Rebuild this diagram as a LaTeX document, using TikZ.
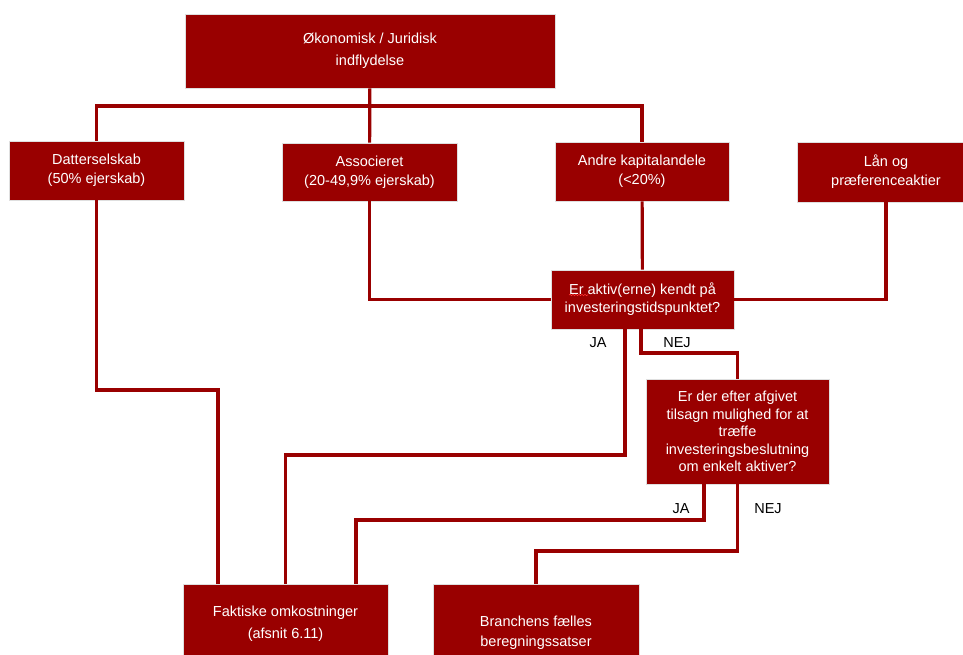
\documentclass[tikz,border=0pt]{standalone}
\usepackage{fontspec}
\setmainfont{Liberation Sans}
\usetikzlibrary{decorations.pathmorphing}

\definecolor{boxred}{RGB}{153,0,0}

\tikzset{
    box/.style={fill=boxred, draw=gray!25, line width=0.8pt, text=white,
        align=center, inner sep=0pt, font=\fontsize{14.5}{19}\selectfont},
    link/.style={draw=boxred, line width=3.2pt, line join=miter},
    answer/.style={text=black, font=\fontsize{14.5}{16}\selectfont, inner sep=0pt}
}

\begin{document}
\begin{tikzpicture}[x=1pt, y=-1pt]
                \clip (0,0) rectangle (963,655);
                \useasboundingbox (0,0) rectangle (963,655);
                % boxes
                \node[box, minimum width=370pt, minimum height=74pt, font=\fontsize{14.5}{22}\selectfont] (top) at (370,51) {Økonomisk / Juridisk\\indflydelse};
                \node[box, minimum width=175pt, minimum height=59pt] (datter) at (96.5,170.5) {Datterselskab\\(50\% ejerskab)};
                \node[box, minimum width=175pt, minimum height=58pt] (assoc) at (369.5,172) {Associeret\\(20-49,9\% ejerskab)};
                \node[box, minimum width=174pt, minimum height=59pt] (andre) at (642,171.5) {Andre kapitalandele\\(<20\%)};
                \node[box, minimum width=178pt, minimum height=60pt] (laan) at (886,172) {Lån og\\præferenceaktier};
                \node[box, minimum width=183pt, minimum height=59pt, font=\fontsize{14.5}{18}\selectfont] (kendt) at (642.5,299.5) {Er aktiv(erne) kendt på\\investeringstidspunktet?};
                \node[box, minimum width=183pt, minimum height=105pt, font=\fontsize{14.5}{17.5}\selectfont] (tilsagn) at (737.5,431.5) {Er der efter afgivet\\tilsagn mulighed for at\\træffe\\investeringsbeslutning\\om enkelt aktiver?};
                \node[box, minimum width=205pt, minimum height=80pt, font=\fontsize{14.5}{22}\selectfont] (fakt) at (285.5,624) {Faktiske omkostninger\\(afsnit 6.11)};
                \node[box, minimum width=206pt, minimum height=98pt, font=\fontsize{14.5}{20}\selectfont] (branche) at (536,633) {Branchens fælles\\beregningssatser};
                % corners
                \coordinate (bus) at (370,106);
                \coordinate (dk) at (218,390);
                \coordinate (ja1) at (625,455);
                \coordinate (nej1) at (641,353);
                \coordinate (ja2) at (704,520);
                \coordinate (nej2) at (737.5,551);
                % connectors
                \draw[link] (top) -- (assoc);
                \draw[link] (datter.north) |- (bus) -| (andre.north);
                \draw[link] (datter.south) |- (dk) -- (dk |- fakt.north);
                \draw[link] (assoc.south) |- (kendt.west);
                \draw[link] (andre) -- (kendt);
                \draw[link] (laan.south) |- (kendt.east);
                \draw[link] (kendt.south -| ja1) -- (ja1) -| (fakt.north);
                \draw[link] (kendt.south -| nej1) -- (nej1) -| (tilsagn.north);
                \draw[link] (tilsagn.south -| ja2) -- (ja2) -| ([xshift=70.5pt]fakt.north);
                \draw[link] (tilsagn.south) -- (nej2) -| (branche.north);
                % answers
                \node[answer] (ja1l) at (598,343) {JA};
                \node[answer] (nej1l) at (677,343) {NEJ};
                \node[answer] (ja2l) at (681,509) {JA};
                \node[answer] (nej2l) at (768,509) {NEJ};
                % spell check mark
                \draw[red!80, line width=0.6pt, decorate, decoration={snake, amplitude=0.7pt, segment length=3pt}] (569,295) -- (588,295);
            \end{tikzpicture}
\end{document}
